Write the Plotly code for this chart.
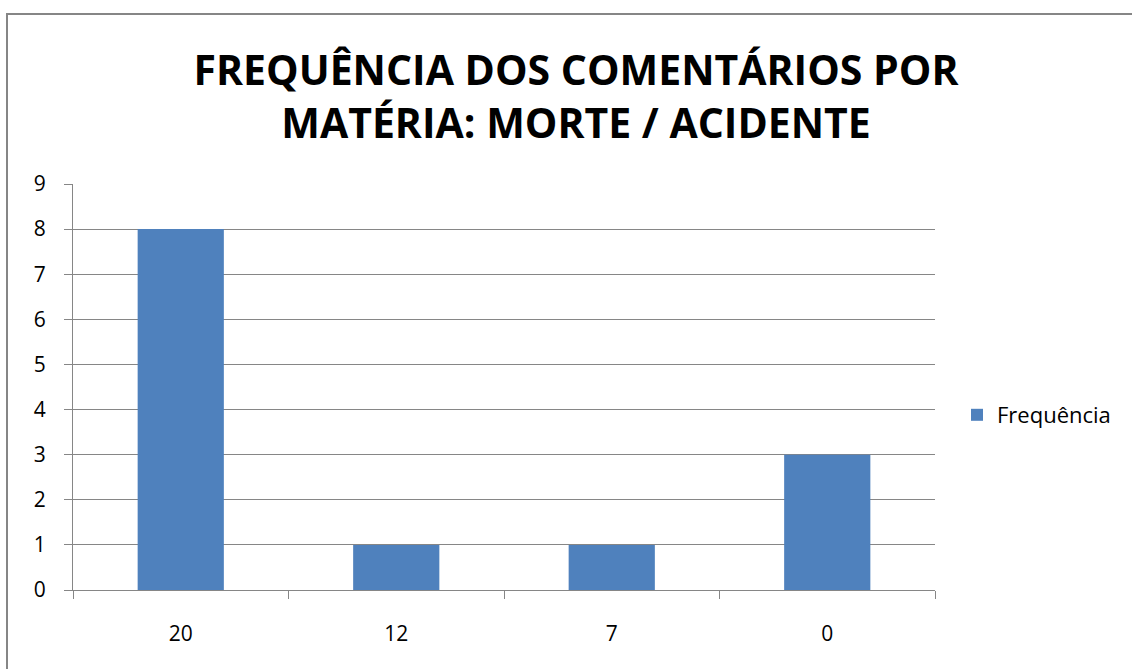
import plotly.graph_objects as go

categories = ["20", "12", "7", "0"]
values = [8, 1, 1, 3]
series_name = "Frequência"
title_text = "FREQUÊNCIA DOS COMENTÁRIOS POR<br>MATÉRIA: MORTE / ACIDENTE"

W, H = 1132, 669
L, R, T, B = 73, 197, 184, 79
pw, ph = W - L - R, H - T - B

def px_to_paper_x(px):
    return (px - L) / pw

def px_to_paper_y(py):
    return (H - B - py) / ph

fig = go.Figure()
fig.add_trace(go.Bar(x=categories, y=values, name=series_name,
                     marker=dict(color="#4F81BD", line=dict(width=0))))

fig.update_layout(
    width=W, height=H,
    margin=dict(l=L, r=R, t=T, b=B, autoexpand=False),
    paper_bgcolor="white", plot_bgcolor="white",
    font=dict(family="Open Sans", color="black", size=21),
    title=dict(text="<b>" + title_text + "</b>", x=px_to_paper_x(576), xref="paper",
               xanchor="center", y=1 - 85 / H, yanchor="middle",
               font=dict(family="Open Sans", size=41, color="black")),
    bargap=0.6,
    showlegend=True,
    legend=dict(x=px_to_paper_x(957), y=px_to_paper_y(415), xanchor="left", yanchor="middle",
                font=dict(size=22), bgcolor="rgba(0,0,0,0)", itemwidth=30),
    xaxis=dict(showgrid=False, showline=True, linecolor="#868686", linewidth=1,
               ticks="outside", tickson="boundaries", ticklen=8, tickcolor="#868686",
               tickfont=dict(size=21), ticklabelstandoff=25, fixedrange=True),
    yaxis=dict(range=[0, 9], dtick=1, showgrid=True, gridcolor="#868686", gridwidth=1,
               showline=True, linecolor="#868686", linewidth=1, zeroline=False,
               ticks="outside", ticklen=8, tickcolor="#868686",
               tickfont=dict(size=21), ticklabelstandoff=14, fixedrange=True),
)

fig.add_shape(type="rect", xref="paper", yref="paper",
              x0=px_to_paper_x(7), x1=px_to_paper_x(1200),
              y0=px_to_paper_y(720), y1=px_to_paper_y(14),
              line=dict(color="#868686", width=2), fillcolor="rgba(0,0,0,0)", layer="below")

fig.write_html("out.html", config={"displayModeBar": False},
               post_script="document.body.style.margin='0';document.body.style.overflow='hidden';")
